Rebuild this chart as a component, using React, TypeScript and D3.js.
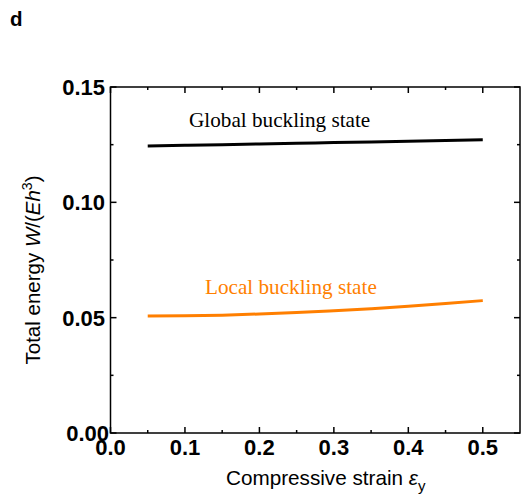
import React from "react";
import * as d3 from "d3";

const strain = [0.05, 0.1, 0.15, 0.2, 0.25, 0.3, 0.35, 0.4, 0.45, 0.5];
const globalEnergy = [0.1244, 0.1247, 0.1250, 0.1253, 0.1256, 0.1259, 0.1262, 0.1265, 0.1268, 0.1271];
const localEnergy = [0.0507, 0.0508, 0.0511, 0.0516, 0.0522, 0.0530, 0.0539, 0.0549, 0.0561, 0.0574];
const xTicks = [0, 0.1, 0.2, 0.3, 0.4, 0.5];
const yTicks = [0, 0.05, 0.1, 0.15];
const xMinor = [0.05, 0.15, 0.25, 0.35, 0.45];
const yMinor = [0.025, 0.075, 0.125];

export default function App() {
  const W = 521, H = 495;
  const left = 110.5, right = 520, top = 87, bottom = 433;
  const x = d3.scaleLinear().domain([0, 0.55]).range([left, right]);
  const y = d3.scaleLinear().domain([0, 0.15]).range([bottom, top]);
  const mk = () => d3.line<number>().x((_, i) => x(strain[i])).y((d) => y(d)).curve(d3.curveMonotoneX);
  const gPath = mk()(globalEnergy) as string;
  const lPath = mk()(localEnergy) as string;
  const arial = "Arial, 'Liberation Sans', Helvetica, sans-serif";
  const times = "'Times New Roman', 'Liberation Serif', serif";
  return (
    <svg width={W} height={H} style={{ position: "absolute", left: 0, top: 0 }}>
      <text x={10} y={26} fontFamily={arial} fontWeight="bold" fontSize={20.5}>d</text>
      <path d={gPath} fill="none" stroke="#000" strokeWidth={3} />
      <path d={lPath} fill="none" stroke="#ff7f00" strokeWidth={3} />
      <text x={189} y={127} fontFamily={times} fontSize={21.2} fill="#000">Global buckling state</text>
      <text x={205} y={294} fontFamily={times} fontSize={21.2} fill="#ff7f00">Local buckling state</text>
      <rect x={left} y={top} width={right - left} height={bottom - top} fill="none" stroke="#000" strokeWidth={1.5} />
      {xTicks.map((t) => (
        <g key={"xt" + t}>
          <line x1={x(t)} x2={x(t)} y1={bottom} y2={bottom - 6} stroke="#000" strokeWidth={1.5} />
          <line x1={x(t)} x2={x(t)} y1={top} y2={top + 6} stroke="#000" strokeWidth={1.5} />
          <text x={x(t)} y={455} textAnchor="middle" fontFamily={arial} fontWeight="bold" fontSize={22}>{t.toFixed(1)}</text>
        </g>
      ))}
      {xMinor.map((t) => (
        <g key={"xm" + t}>
          <line x1={x(t)} x2={x(t)} y1={bottom} y2={bottom - 3} stroke="#000" strokeWidth={1.5} />
          <line x1={x(t)} x2={x(t)} y1={top} y2={top + 3} stroke="#000" strokeWidth={1.5} />
        </g>
      ))}
      {yTicks.map((t) => (
        <g key={"yt" + t}>
          <line x1={left} x2={left + 6} y1={y(t)} y2={y(t)} stroke="#000" strokeWidth={1.5} />
          <line x1={right} x2={right - 6} y1={y(t)} y2={y(t)} stroke="#000" strokeWidth={1.5} />
          <text x={t === 0 ? 109 : 105} y={y(t) + 8} textAnchor="end" fontFamily={arial} fontWeight="bold" fontSize={22}>{t.toFixed(2)}</text>
        </g>
      ))}
      {yMinor.map((t) => (
        <g key={"ym" + t}>
          <line x1={left} x2={left + 3} y1={y(t)} y2={y(t)} stroke="#000" strokeWidth={1.5} />
          <line x1={right} x2={right - 3} y1={y(t)} y2={y(t)} stroke="#000" strokeWidth={1.5} />
        </g>
      ))}
      <text x={226} y={485} fontFamily={arial} fontSize={20.7}>
        Compressive strain <tspan fontStyle="italic">ε</tspan><tspan fontSize={15} dy={6}>y</tspan>
      </text>
      <text transform={`translate(40, 270) rotate(-90)`} textAnchor="middle" fontFamily={arial} fontSize={20.5}>
        Total energy <tspan fontStyle="italic">W</tspan>/(<tspan fontStyle="italic">Eh</tspan><tspan fontSize={14} dy={-8}>3</tspan><tspan dy={8}>)</tspan>
      </text>
    </svg>
  );
}
